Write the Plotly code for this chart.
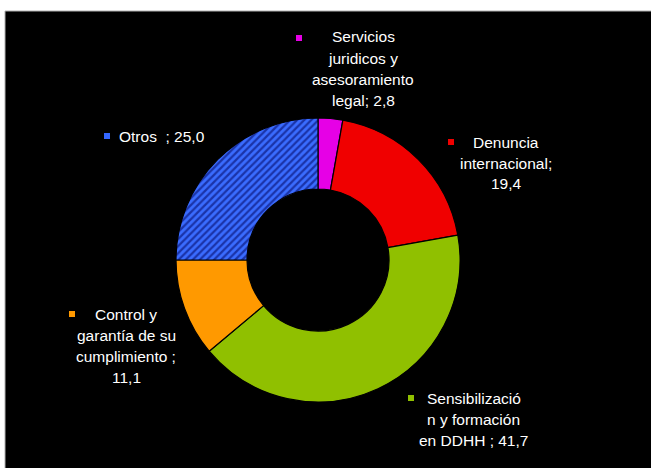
import plotly.graph_objects as go

W, H = 651, 468

categories = [
    "Servicios juridicos y asesoramiento legal",
    "Denuncia internacional",
    "Sensibilización y formación en DDHH",
    "Control y garantía de su cumplimiento",
    "Otros",
]
values = [2.8, 19.4, 41.7, 11.1, 25.0]
value_labels = ["2,8", "19,4", "41,7", "11,1", "25,0"]

# label text as it is wrapped in the chart
label_lines = [
    ["Servicios", "juridicos y", "asesoramiento", "legal; {v}"],
    ["Denuncia", "internacional;", "{v}"],
    ["Sensibilizació", "n y formación", "en DDHH ; {v}"],
    ["Control y", "garantía de su", "cumplimiento ;", "{v}"],
    ["Otros  ; {v}"],
]

colors = ["#E600E6", "#F00000", "#90C000", "#FF9900", "#3366FF"]
patterns = ["", "", "", "", "/"]

# styling: label anchor (pixel) positions, marker square positions
label_pos = [(363, 37), (506, 142), (474, 398), (126, 314), (162, 136)]
marker_pos = [(299, 38), (451, 142), (411, 398), (72, 314), (107, 136)]


def px(x):
    return x / W


def py(y):
    return 1 - y / H


cx, cy, r = 318, 260, 142

fig = go.Figure(
    go.Pie(
        labels=categories,
        values=values,
        sort=False,
        direction="clockwise",
        rotation=0,
        hole=0.5,
        textinfo="none",
        hoverinfo="label+value",
        marker=dict(
            colors=colors,
            line=dict(color="#000000", width=1.2),
            pattern=dict(
                shape=patterns,
                fgcolor="#1a33a8",
                bgcolor="#3a6cff",
                size=5,
                solidity=0.45,
            ),
        ),
        domain=dict(x=[px(cx - r), px(cx + r)], y=[py(cy + r), py(cy - r)]),
        showlegend=False,
    )
)

shapes = [
    dict(type="rect", xref="paper", yref="paper", x0=px(5), x1=1.01, y0=-0.01, y1=py(11),
         fillcolor="#000000", line=dict(color="#b0b0b0", width=1), layer="below"),
]
annotations = []
font = dict(family="Liberation Sans, Arial, sans-serif", size=15.5, color="#FFFFFF")
line_h = 21
for i, lines in enumerate(label_lines):
    lx, ly = label_pos[i]
    for j, ln in enumerate(lines):
        annotations.append(dict(
            x=px(lx), y=py(ly + j * line_h), xref="paper", yref="paper",
            text=ln.format(v=value_labels[i]), showarrow=False,
            xanchor="center", yanchor="middle", font=font,
        ))
    mx, my = marker_pos[i]
    shapes.append(dict(
        type="rect", xref="paper", yref="paper",
        x0=px(mx - 3), x1=px(mx + 3), y0=py(my + 3), y1=py(my - 3),
        fillcolor=colors[i], line=dict(width=0),
    ))

fig.update_layout(
    width=W, height=H,
    margin=dict(l=0, r=0, t=0, b=0),
    paper_bgcolor="#FFFFFF",
    plot_bgcolor="#000000",
    shapes=shapes,
    annotations=annotations,
)

fig.write_html(
    "out.html",
    config={"displayModeBar": False},
    post_script="document.body.style.margin='0';document.body.style.overflow='hidden';",
)
